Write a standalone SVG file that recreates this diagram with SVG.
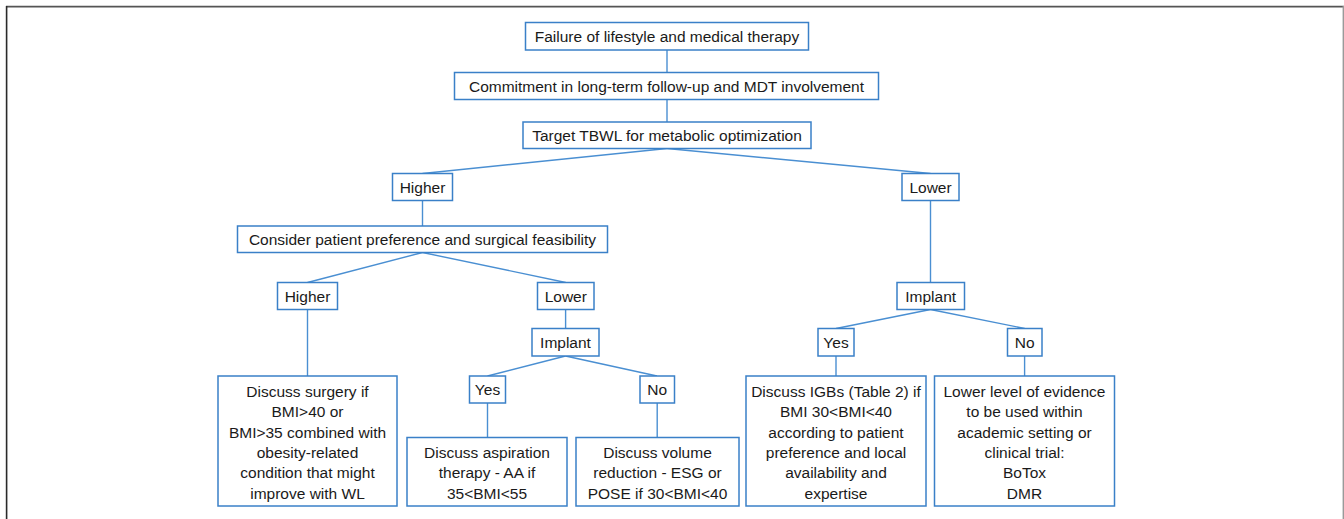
<svg xmlns="http://www.w3.org/2000/svg" width="1344" height="519" viewBox="0 0 1344 519">
<style>
.frame{fill:none}
.box{fill:#ffffff;stroke:#3a80c8;stroke-width:1.5}
.con{fill:none;stroke:#4a8fd2;stroke-width:1.4}
text{font-family:"Liberation Sans",Arial,sans-serif;font-size:15.5px;fill:#1a1a1a;text-anchor:middle}
</style>
<rect x="0" y="0" width="1344" height="519" fill="#ffffff"/>
<g id="frame">
<line x1="6" y1="6.6" x2="1344" y2="6.6" stroke="#555555" stroke-width="1.6"/>
<line x1="6.6" y1="6" x2="6.6" y2="519" stroke="#2a2a2a" stroke-width="1.6"/>
<line x1="1343.3" y1="6" x2="1343.3" y2="519" stroke="#9a9a9a" stroke-width="1.4"/>
</g>
<g id="connectors">
<line class="con" x1="667" y1="50" x2="667" y2="72.5"/>
<line class="con" x1="667" y1="99.5" x2="667" y2="122"/>
<line class="con" x1="667" y1="148.5" x2="422.5" y2="173.5"/>
<line class="con" x1="667" y1="148.5" x2="930.5" y2="173.5"/>
<line class="con" x1="422.5" y1="200.5" x2="422.5" y2="226"/>
<line class="con" x1="930.5" y1="200.5" x2="930.5" y2="282.5"/>
<line class="con" x1="422.5" y1="252.5" x2="307.5" y2="282.5"/>
<line class="con" x1="422.5" y1="252.5" x2="565.75" y2="282.5"/>
<line class="con" x1="307.5" y1="309.5" x2="307.5" y2="376"/>
<line class="con" x1="565.6" y1="309.5" x2="565.6" y2="328.5"/>
<line class="con" x1="565.5" y1="356" x2="487.5" y2="376"/>
<line class="con" x1="565.5" y1="356" x2="657" y2="376"/>
<line class="con" x1="487.5" y1="403" x2="487.5" y2="437.5"/>
<line class="con" x1="657.2" y1="403" x2="657.2" y2="437.5"/>
<line class="con" x1="930.5" y1="309.5" x2="836" y2="328.5"/>
<line class="con" x1="930.5" y1="309.5" x2="1024.7" y2="328.5"/>
<line class="con" x1="836" y1="356" x2="836" y2="376"/>
<line class="con" x1="1024.6" y1="356" x2="1024.6" y2="376"/>
</g>
<g id="n-failure">
<rect class="box" x="525.5" y="22.5" width="283" height="27.5"/>
<text x="667" y="41.8">Failure of lifestyle and medical therapy</text>
</g>
<g id="n-commitment">
<rect class="box" x="454.5" y="72.5" width="424" height="27"/>
<text x="666.5" y="91.5">Commitment in long-term follow-up and MDT involvement</text>
</g>
<g id="n-target">
<rect class="box" x="523" y="122" width="288" height="26.5"/>
<text x="667" y="140.8">Target TBWL for metabolic optimization</text>
</g>
<g id="n-higher1">
<rect class="box" x="392.5" y="173.5" width="60" height="27"/>
<text x="422.5" y="192.5">Higher</text>
</g>
<g id="n-lower1">
<rect class="box" x="902" y="173.5" width="57" height="27"/>
<text x="930.5" y="192.5">Lower</text>
</g>
<g id="n-consider">
<rect class="box" x="237.5" y="226" width="370" height="26.5"/>
<text x="422.5" y="244.8">Consider patient preference and surgical feasibility</text>
</g>
<g id="n-higher2">
<rect class="box" x="277.5" y="282.5" width="60" height="27"/>
<text x="307.5" y="301.5">Higher</text>
</g>
<g id="n-lower2">
<rect class="box" x="537.5" y="282.5" width="56.5" height="27"/>
<text x="565.75" y="301.5">Lower</text>
</g>
<g id="n-implant-left">
<rect class="box" x="532" y="328.5" width="67" height="27.5"/>
<text x="565.5" y="347.8">Implant</text>
</g>
<g id="n-yes-left">
<rect class="box" x="469.5" y="376" width="36" height="27"/>
<text x="487.5" y="395">Yes</text>
</g>
<g id="n-no-left">
<rect class="box" x="640" y="376" width="34.5" height="27"/>
<text x="657.2" y="395">No</text>
</g>
<g id="n-surgery">
<rect class="box" x="218" y="376" width="179" height="130"/>
<text x="307.5" y="397">Discuss surgery if</text>
<text x="307.5" y="417.3">BMI&gt;40 or</text>
<text x="307.5" y="437.6">BMI&gt;35 combined with</text>
<text x="307.5" y="457.9">obesity-related</text>
<text x="307.5" y="478.2">condition that might</text>
<text x="307.5" y="498.5">improve with WL</text>
</g>
<g id="n-aspiration">
<rect class="box" x="407" y="437.5" width="160" height="68.5"/>
<text x="487" y="457.9">Discuss aspiration</text>
<text x="487" y="478.2">therapy - AA if</text>
<text x="487" y="498.5">35&lt;BMI&lt;55</text>
</g>
<g id="n-volume">
<rect class="box" x="576" y="437.5" width="163" height="68.5"/>
<text x="657.5" y="457.9">Discuss volume</text>
<text x="657.5" y="478.2">reduction - ESG or</text>
<text x="657.5" y="498.5">POSE if 30&lt;BMI&lt;40</text>
</g>
<g id="n-implant-right">
<rect class="box" x="897" y="282.5" width="67.5" height="27"/>
<text x="930.7" y="301.5">Implant</text>
</g>
<g id="n-yes-right">
<rect class="box" x="818" y="328.5" width="36" height="27.5"/>
<text x="836" y="347.8">Yes</text>
</g>
<g id="n-no-right">
<rect class="box" x="1007.5" y="328.5" width="34.5" height="27.5"/>
<text x="1024.7" y="347.8">No</text>
</g>
<g id="n-igbs">
<rect class="box" x="746" y="376" width="180" height="130"/>
<text x="836" y="397">Discuss IGBs (Table 2) if</text>
<text x="836" y="417.3">BMI 30&lt;BMI&lt;40</text>
<text x="836" y="437.6">according to patient</text>
<text x="836" y="457.9">preference and local</text>
<text x="836" y="478.2">availability and</text>
<text x="836" y="498.5">expertise</text>
</g>
<g id="n-lower-evidence">
<rect class="box" x="934.5" y="376" width="180" height="130"/>
<text x="1024.5" y="397">Lower level of evidence</text>
<text x="1024.5" y="417.3">to be used within</text>
<text x="1024.5" y="437.6">academic setting or</text>
<text x="1024.5" y="457.9">clinical trial:</text>
<text x="1024.5" y="478.2">BoTox</text>
<text x="1024.5" y="498.5">DMR</text>
</g>
</svg>
